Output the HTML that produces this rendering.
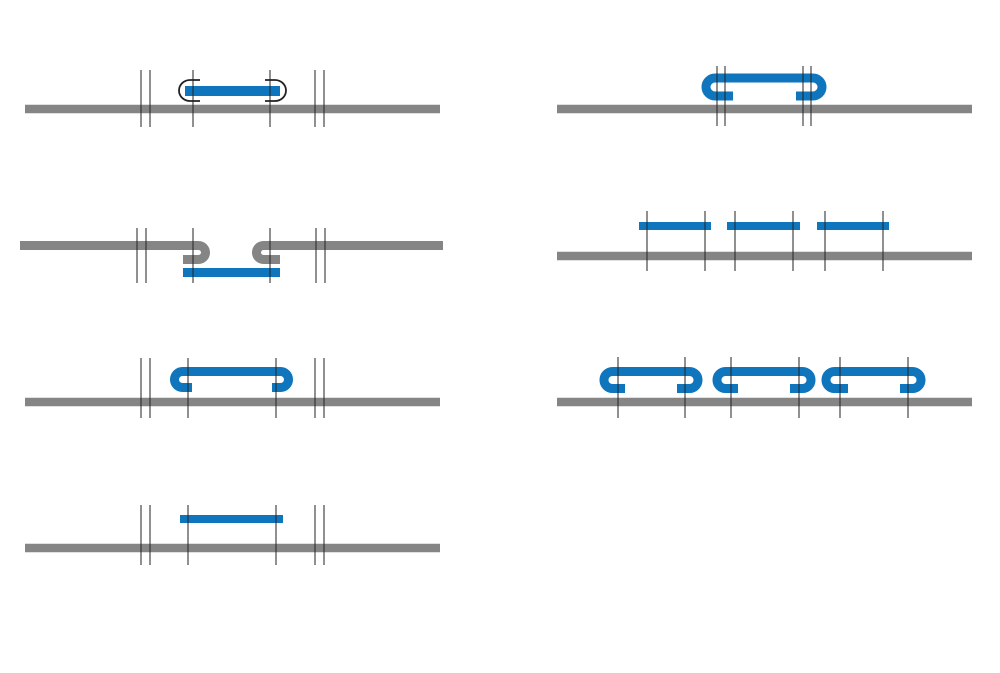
<!DOCTYPE html>
<html><head><meta charset="utf-8"><style>html,body{margin:0;padding:0;background:#fff}svg{display:block}</style></head>
<body>
<svg width="1000" height="673" viewBox="0 0 1000 673" xmlns="http://www.w3.org/2000/svg">
<g fill="none" stroke-linecap="butt">
<line x1="25" y1="109" x2="440" y2="109" stroke="#858585" stroke-width="8.5"/>
<rect x="185" y="86" width="95" height="10" fill="#0f75bd"/>
<path d="M200,80 H190 A11,10.5 0 0 0 190,101 H200" stroke="#222" stroke-width="1.8"/>
<path d="M265,80 H275 A11,10.5 0 0 1 275,101 H265" stroke="#222" stroke-width="1.8"/>
<g stroke="#222" stroke-width="1">
<line x1="141" y1="70" x2="141" y2="127"/><line x1="150" y1="70" x2="150" y2="127"/>
<line x1="193" y1="70" x2="193" y2="127"/><line x1="270" y1="70" x2="270" y2="127"/>
<line x1="315" y1="70" x2="315" y2="127"/><line x1="324" y1="70" x2="324" y2="127"/>
</g>
<path d="M20,245.5 H198.5 A7,7 0 0 1 198.5,259.5 H183" stroke="#858585" stroke-width="9"/>
<path d="M443,245.5 H263.5 A7,7 0 0 0 263.5,259.5 H280" stroke="#858585" stroke-width="9"/>
<rect x="183" y="268" width="97" height="9" fill="#0f75bd"/>
<g stroke="#222" stroke-width="1">
<line x1="137" y1="228" x2="137" y2="283"/><line x1="146" y1="228" x2="146" y2="283"/>
<line x1="193" y1="228" x2="193" y2="283"/><line x1="270" y1="228" x2="270" y2="283"/>
<line x1="316" y1="228" x2="316" y2="283"/><line x1="325" y1="228" x2="325" y2="283"/>
</g>
<line x1="25" y1="402" x2="440" y2="402" stroke="#858585" stroke-width="8.5"/>
<path d="M192,387.5 H182.5 A8,8 0 0 1 182.5,371.5 H280.5 A8,8 0 0 1 280.5,387.5 H272" stroke="#0f75bd" stroke-width="9"/>
<g stroke="#222" stroke-width="1">
<line x1="141" y1="358" x2="141" y2="418"/><line x1="150" y1="358" x2="150" y2="418"/>
<line x1="188" y1="358" x2="188" y2="418"/><line x1="276" y1="358" x2="276" y2="418"/>
<line x1="315" y1="358" x2="315" y2="418"/><line x1="324" y1="358" x2="324" y2="418"/>
</g>
<line x1="25" y1="548" x2="440" y2="548" stroke="#858585" stroke-width="8.5"/>
<rect x="180" y="515" width="103" height="8" fill="#0f75bd"/>
<g stroke="#222" stroke-width="1">
<line x1="141" y1="505" x2="141" y2="565"/><line x1="150" y1="505" x2="150" y2="565"/>
<line x1="188" y1="505" x2="188" y2="565"/><line x1="276" y1="505" x2="276" y2="565"/>
<line x1="315" y1="505" x2="315" y2="565"/><line x1="324" y1="505" x2="324" y2="565"/>
</g>
<line x1="557" y1="109" x2="972" y2="109" stroke="#858585" stroke-width="8.5"/>
<path d="M733,96 H715 A9,9 0 0 1 715,78 H813 A9,9 0 0 1 813,96 H796" stroke="#0f75bd" stroke-width="9"/>
<g stroke="#222" stroke-width="1">
<line x1="717" y1="66" x2="717" y2="126"/><line x1="725" y1="66" x2="725" y2="126"/>
<line x1="803" y1="66" x2="803" y2="126"/><line x1="811" y1="66" x2="811" y2="126"/>
</g>
<line x1="557" y1="256" x2="972" y2="256" stroke="#858585" stroke-width="8.5"/>
<rect x="639" y="222" width="72" height="8" fill="#0f75bd"/>
<rect x="727" y="222" width="73" height="8" fill="#0f75bd"/>
<rect x="817" y="222" width="72" height="8" fill="#0f75bd"/>
<g stroke="#222" stroke-width="1">
<line x1="647" y1="211" x2="647" y2="271"/><line x1="705" y1="211" x2="705" y2="271"/>
<line x1="735" y1="211" x2="735" y2="271"/><line x1="793" y1="211" x2="793" y2="271"/>
<line x1="825" y1="211" x2="825" y2="271"/><line x1="883" y1="211" x2="883" y2="271"/>
</g>
<line x1="557" y1="402" x2="972" y2="402" stroke="#858585" stroke-width="8.5"/>
<path d="M625,388.5 H612.5 A8.5,8.5 0 0 1 612.5,371.5 H689.5 A8.5,8.5 0 0 1 689.5,388.5 H677" stroke="#0f75bd" stroke-width="9"/>
<path d="M738,388.5 H725.5 A8.5,8.5 0 0 1 725.5,371.5 H802.5 A8.5,8.5 0 0 1 802.5,388.5 H790" stroke="#0f75bd" stroke-width="9"/>
<path d="M848,388.5 H834.5 A8.5,8.5 0 0 1 834.5,371.5 H912.5 A8.5,8.5 0 0 1 912.5,388.5 H900" stroke="#0f75bd" stroke-width="9"/>
<g stroke="#222" stroke-width="1">
<line x1="618" y1="357" x2="618" y2="418"/><line x1="685" y1="357" x2="685" y2="418"/>
<line x1="731" y1="357" x2="731" y2="418"/><line x1="799" y1="357" x2="799" y2="418"/>
<line x1="840" y1="357" x2="840" y2="418"/><line x1="908" y1="357" x2="908" y2="418"/>
</g>
</g>
</svg>
</body></html>
